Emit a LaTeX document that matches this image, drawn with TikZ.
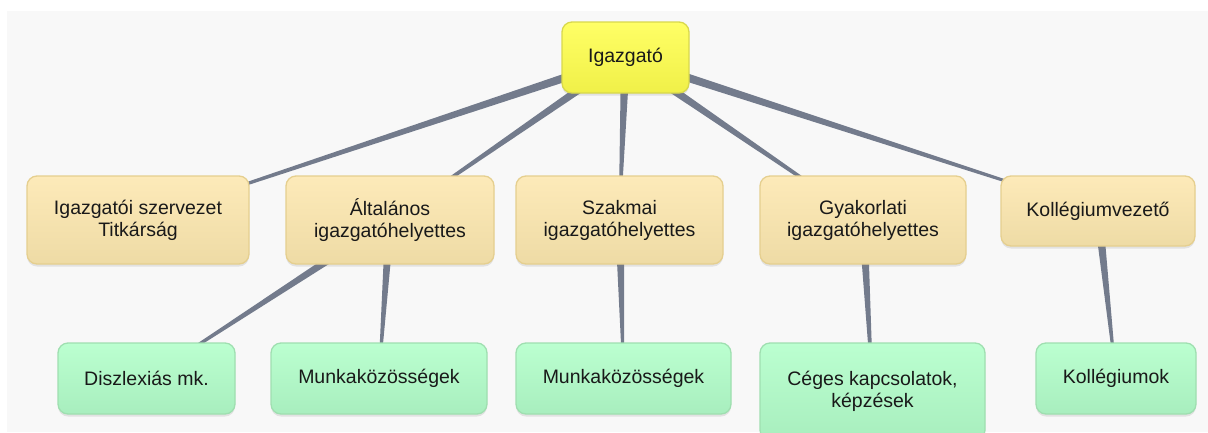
\documentclass[tikz,border=0pt]{standalone}
\usepackage{fontspec}
\setmainfont{Liberation Sans}
\usepackage{tikz}
\usetikzlibrary{calc,shadows,backgrounds}

\definecolor{paper}{HTML}{F8F8F8}
\definecolor{edgegray}{HTML}{737B8C}
\definecolor{headtop}{HTML}{FFFF66}
\definecolor{headbot}{HTML}{F0F048}
\definecolor{headline}{HTML}{D8D84C}
\definecolor{deptop}{HTML}{FDEAB9}
\definecolor{depbot}{HTML}{EEDBA5}
\definecolor{depline}{HTML}{E5CF8F}
\definecolor{unittop}{HTML}{BBFFD0}
\definecolor{unitbot}{HTML}{A8EEBE}
\definecolor{unitline}{HTML}{9FDFB0}

\begin{document}
\begin{tikzpicture}[x=1pt,y=-1pt]
\tikzset{box/.style = {draw,rounded corners=10pt,line width=1.3pt,align=center,inner sep=0pt,
  font=\fontsize{19.5}{22}\selectfont,text=black!90,
  drop shadow={shadow xshift=0pt,shadow yshift=-2.5pt,opacity=0.18}}}
\tikzset{head/.style = {box,draw=headline,top color=headtop,bottom color=headbot}}
\tikzset{dept/.style = {box,draw=depline,top color=deptop,bottom color=depbot,minimum height=88pt}}
\tikzset{unit/.style = {box,draw=unitline,top color=unittop,bottom color=unitbot,minimum height=71pt}}
\tikzset{edge/.style = {fill=edgegray,to path={
  ($(\tikztostart)!4.5pt!90:(\tikztotarget)$) -- ($(\tikztotarget)!0.8pt!-90:(\tikztostart)$) --
  ($(\tikztotarget)!0.8pt!90:(\tikztostart)$) -- ($(\tikztostart)!4.5pt!-90:(\tikztotarget)$) -- cycle}}}

\useasboundingbox (0,0) rectangle (1208,432);
\clip (0,0) rectangle (1208,432);

\node[head,minimum width=127pt,minimum height=71pt] (dir) at (625.5,57.5) {Igazgató};

\node[dept,minimum width=222pt] (titk) at (138,220) {Igazgatói szervezet\\Titkárság};
\node[dept,minimum width=208pt] (alt)  at (390,220) {Általános\\igazgatóhelyettes};
\node[dept,minimum width=207pt] (szak) at (619.5,220) {Szakmai\\igazgatóhelyettes};
\node[dept,minimum width=206pt] (gyak) at (863,220) {Gyakorlati\\igazgatóhelyettes};
\node[dept,minimum width=194pt,minimum height=70pt] (kollv) at (1098,211) {Kollégiumvezető};

\node[unit,minimum width=177pt] (diszl) at (146.5,378.5) {Diszlexiás mk.};
\node[unit,minimum width=216pt] (mk1)   at (379,378.5) {Munkaközösségek};
\node[unit,minimum width=215pt] (mk2)   at (623.5,378.5) {Munkaközösségek};
\node[unit,minimum width=225pt,minimum height=97pt] (ceg) at (872.5,391.5) {Céges kapcsolatok,\\képzések};
\node[unit,minimum width=160pt] (koll)  at (1116,378.5) {Kollégiumok};

\begin{scope}[on background layer]
\fill[white] (0,0) rectangle (1208,432);
\fill[paper] (7,11) rectangle (1208,432);
\fill[edge] (dir) to (titk);
\fill[edge] (dir) to (alt);
\fill[edge] (dir) to (szak);
\fill[edge] (dir) to (gyak);
\fill[edge] (dir) to (kollv);
\fill[edge] (alt) to (diszl);
\fill[edge] (alt) to (mk1);
\fill[edge] (szak) to (mk2);
\fill[edge] (gyak) to (ceg);
\fill[edge] (kollv) to (koll);
\end{scope}
\end{tikzpicture}
\end{document}
